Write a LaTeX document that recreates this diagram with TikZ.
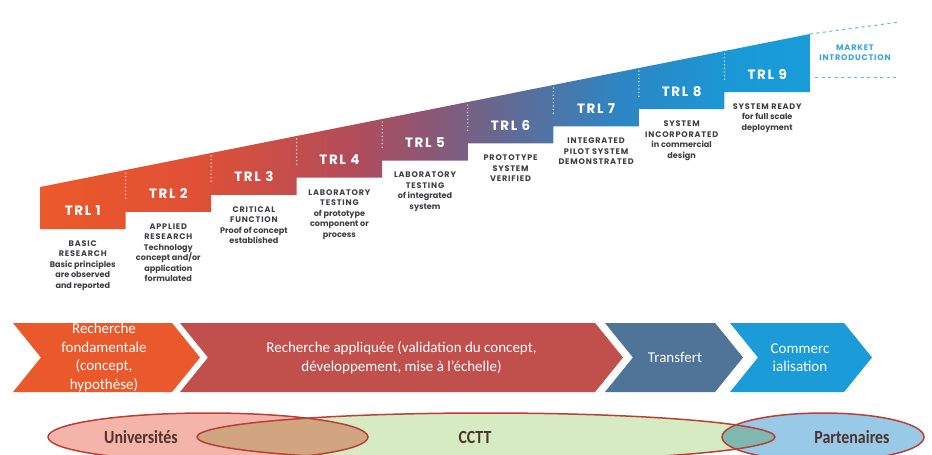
\documentclass[tikz,border=0pt]{standalone}
\usepackage{fontspec}
\setmainfont{Carlito}
\newfontfamily\trlfont{Poppins}
\newfontfamily\ellfont[FakeStretch=0.86]{Carlito}
\usetikzlibrary{shapes.symbols}

\definecolor{trlA}{RGB}{236,89,42}
\definecolor{trlB}{RGB}{224,80,54}
\definecolor{trlC}{RGB}{180,76,88}
\definecolor{trlD}{RGB}{142,86,116}
\definecolor{trlE}{RGB}{94,108,152}
\definecolor{trlF}{RGB}{46,133,195}
\definecolor{trlG}{RGB}{27,152,214}
\definecolor{trlH}{RGB}{24,157,217}
\definecolor{desctext}{RGB}{62,62,66}
\definecolor{mktblue}{RGB}{52,165,218}
\definecolor{fondcol}{RGB}{233,89,44}
\definecolor{applcol}{RGB}{193,80,76}
\definecolor{transcol}{RGB}{80,115,152}
\definecolor{commcol}{RGB}{27,155,215}
\definecolor{unifill}{RGB}{244,180,170}
\definecolor{ccttfill}{RGB}{215,235,195}
\definecolor{partfill}{RGB}{152,202,232}
\definecolor{unicctt}{RGB}{208,165,128}
\definecolor{ccttpart}{RGB}{126,184,176}
\definecolor{actorline}{RGB}{184,64,54}
\definecolor{actortext}{RGB}{78,50,46}

% spaced-out capitals for the step headings
\newcommand{\up}[1]{{\addfontfeature{LetterSpace=10}#1}}

% orange -> mauve -> blue along the stairs
\pgfdeclarehorizontalshading{trlramp}{100bp}{color(0bp)=(trlA); color(25bp)=(trlA);
  color(35bp)=(trlB); color(45bp)=(trlC); color(50bp)=(trlD); color(56bp)=(trlE);
  color(62.5bp)=(trlF); color(70bp)=(trlG); color(75bp)=(trlH); color(100bp)=(trlH)}

\begin{document}
\begin{tikzpicture}[x=1pt, y=-1pt]
    \tikzset{trllabel/.style={font=\trlfont\bfseries\fontsize{13.5}{15}\selectfont\addfontfeature{LetterSpace=12},
        text=white, inner sep=0pt},
      trldesc/.style={font=\trlfont\bfseries\fontsize{8.1}{10.5}\selectfont, text=desctext,
        align=center, anchor=north, inner sep=0pt},
      stepsep/.style={white, line width=1.4pt, dash pattern=on 0pt off 3.6pt, line cap=round},
      marketline/.style={mktblue!80, line width=1pt, dash pattern=on 3pt off 3.5pt},
      chevron/.style={signal, signal from=west, signal to=east, signal pointer angle=102,
        minimum height=69pt, inner sep=0pt, draw=none},
      chevrontext/.style={font=\fontsize{15}{18.5}\selectfont, text=white, align=center, inner sep=0pt},
      actor/.style={draw=actorline, line width=1.5pt},
      actortext/.style={font=\ellfont\bfseries\fontsize{18.5}{20}\selectfont, text=actortext, inner sep=0pt}
    }

    \useasboundingbox (0,0) rectangle (932,455);
    \def\stepw{85.5556}
    \def\stepd{17.125}

    % the staircase
    \shade[shading=trlramp] (40,187) -- (810,34) -- (810,92)
      \foreach \i in {8,...,1}{ -- ({40+\i*\stepw},{229-\i*\stepd}) -- ({40+\i*\stepw},{229-(\i-1)*\stepd}) }
      -- (40,229) -- cycle;
    \foreach \i in {1,...,8}
      \draw[stepsep] ({40+\i*\stepw},{190-17*\i}) -- ({40+\i*\stepw},{217-17*\i});

    \foreach \i in {1,...,9}
      \node[trllabel] (trl\i) at ({40+(\i-0.5)*\stepw},{211-(\i-1)*\stepd}) {TRL \i};

    \foreach \i/\desc in {1/{\up{BASIC}\\\up{RESEARCH}\\Basic principles\\are observed\\and reported},
        2/{\up{APPLIED}\\\up{RESEARCH}\\Technology\\concept and/or\\application\\formulated},
        3/{\up{CRITICAL}\\\up{FUNCTION}\\Proof of concept\\established},
        4/{\up{LABORATORY}\\\up{TESTING}\\of prototype\\component or\\process},
        5/{\up{LABORATORY}\\\up{TESTING}\\of integrated\\system},
        6/{\up{PROTOTYPE}\\\up{SYSTEM}\\\up{VERIFIED}},
        7/{\up{INTEGRATED}\\\up{PILOT SYSTEM}\\\up{DEMONSTRATED}},
        8/{\up{SYSTEM}\\\up{INCORPORATED}\\in commercial\\design},
        9/{\up{SYSTEM READY}\\for full scale\\deployment}}
      \node[trldesc] (desc\i) at ({40+(\i-0.5)*\stepw},{240.5-(\i-1)*\stepd}) {\desc};

    \coordinate (top9) at (810,34);
    \coordinate (mktend) at (900,22);
    \coordinate (mktlow) at (815,77);
    \coordinate (mktlowend) at (897,77);
    \draw[marketline] (top9) -- (mktend);
    \draw[marketline] (mktlow) -- (mktlowend);
    \node[font=\trlfont\bfseries\fontsize{8.1}{10}\selectfont\addfontfeature{LetterSpace=10}, text=mktblue,
      align=center] (market) at (855,53) {MARKET\\INTRODUCTION};

    % phases
    \node[chevron, fill=fondcol, minimum width=187pt] (fond) at (106.5,357.5) {};
    \node[chevron, fill=applcol, minimum width=443pt] (appl) at (401.5,357.5) {};
    \node[chevron, fill=transcol, minimum width=138pt] (trans) at (674,357.5) {};
    \node[chevron, fill=commcol, minimum width=142pt] (comm) at (801,357.5) {};

    \node[chevrontext] (fondtxt) at (104,357.5) {Recherche\\fondamentale\\(concept,\\hypothèse)};
    \node[chevrontext] (appltxt) at (appl) {Recherche appliquée (validation du concept,\\développement, mise à l’échelle)};
    \node[chevrontext] (transtxt) at (675,357.5) {Transfert};
    \node[chevrontext] (commtxt) at (800,357.5) {Commerc\\ialisation};

    % who does it
    \coordinate (uni) at (208,437);
    \coordinate (cctt) at (486,437);
    \coordinate (part) at (823,437);
    \fill[unifill] (uni) ellipse [x radius=160pt, y radius=24pt];
    \fill[ccttfill] (cctt) ellipse [x radius=289pt, y radius=24pt];
    \fill[partfill] (part) ellipse [x radius=101pt, y radius=24pt];
    \begin{scope}
      \clip (uni) ellipse [x radius=160pt, y radius=24pt];
      \fill[unicctt] (cctt) ellipse [x radius=289pt, y radius=24pt];
    \end{scope}
    \begin{scope}
      \clip (part) ellipse [x radius=101pt, y radius=24pt];
      \fill[ccttpart] (cctt) ellipse [x radius=289pt, y radius=24pt];
    \end{scope}
    \draw[actor] (uni) ellipse [x radius=160pt, y radius=24pt];
    \draw[actor] (cctt) ellipse [x radius=289pt, y radius=24pt];
    \draw[actor] (part) ellipse [x radius=101pt, y radius=24pt];

    \node[actortext] (unitxt) at (141,437) {Universités};
    \node[actortext] (cctttxt) at (475,437) {CCTT};
    \node[actortext] (parttxt) at (852,437) {Partenaires};
  \end{tikzpicture}
\end{document}
